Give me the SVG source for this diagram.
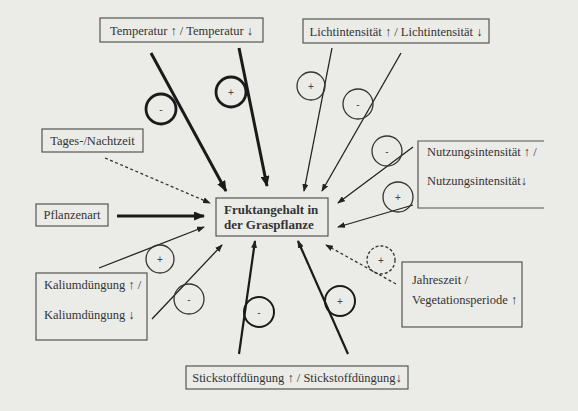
<svg xmlns="http://www.w3.org/2000/svg" width="578" height="411" viewBox="0 0 578 411">
<style>
.bg{fill:#ebebe8}
.box{fill:none;stroke:#555;stroke-width:1.2}
.t{font-family:"Liberation Serif","Times New Roman",serif;font-size:12.5px;fill:#333}
.tb{font-family:"Liberation Serif","Times New Roman",serif;font-size:13px;font-weight:bold;fill:#333}
.thin{stroke:#222;stroke-width:1.3;fill:none}
.med{stroke:#1a1a1a;stroke-width:2.2;fill:none}
.thick{stroke:#1a1a1a;stroke-width:3;fill:none}
.dash{stroke:#333;stroke-width:1.3;fill:none;stroke-dasharray:3,2.5}
.c{fill:none;stroke:#333;stroke-width:1.3}
.ck{fill:none;stroke:#1a1a1a;stroke-width:2.8}
.cm{fill:none;stroke:#1a1a1a;stroke-width:2}
.cd{fill:none;stroke:#333;stroke-width:1.3;stroke-dasharray:3,2}
.s{font-family:"Liberation Sans",Arial,sans-serif;font-size:10px;fill:#444;text-anchor:middle}
</style>
<defs>
<marker id="a" markerWidth="8" markerHeight="6" refX="7" refY="3" orient="auto" markerUnits="userSpaceOnUse"><path d="M0,0 L8,3 L0,6 z" fill="#222"/></marker>
<marker id="ak" markerWidth="11" markerHeight="9" refX="10" refY="4.5" orient="auto" markerUnits="userSpaceOnUse"><path d="M0,0 L11,4.5 L0,9 z" fill="#1a1a1a"/></marker>
</defs>
<rect class="bg" x="0" y="0" width="578" height="411"/>

<g id="n-temperatur"><rect class="box" x="100" y="18" width="163" height="24"/><text class="t" x="181.5" y="35" text-anchor="middle">Temperatur ↑  / Temperatur ↓</text></g>
<g id="n-licht"><rect class="box" x="303" y="19" width="186" height="24"/><text class="t" x="396" y="36" text-anchor="middle">Lichtintensität ↑ / Lichtintensität ↓</text></g>
<g id="n-tages"><rect class="box" x="42" y="129" width="101" height="23"/><text class="t" x="92.5" y="145" text-anchor="middle">Tages-/Nachtzeit</text></g>
<g id="n-pflanzenart"><rect class="box" x="36" y="204" width="72" height="22"/><text class="t" x="72" y="219" text-anchor="middle">Pflanzenart</text></g>
<g id="n-frukt"><rect class="box" x="216" y="198" width="112" height="38"/><text class="tb" x="224" y="214">Fruktangehalt in</text><text class="tb" x="224" y="229">der Graspflanze</text></g>
<g id="n-nutzung"><path class="box" d="M544,141 H418 V208 H544"/><text class="t" x="427" y="156">Nutzungsintensität ↑ /</text><text class="t" x="427" y="185">Nutzungsintensität↓</text></g>
<g id="n-kalium"><rect class="box" x="36" y="273" width="111" height="67"/><text class="t" x="44" y="289">Kaliumdüngung ↑ /</text><text class="t" x="44" y="319">Kaliumdüngung ↓</text></g>
<g id="n-jahreszeit"><rect class="box" x="402" y="262" width="120" height="65"/><text class="t" x="412" y="284">Jahreszeit /</text><text class="t" x="412" y="304">Vegetationsperiode ↑</text></g>
<g id="n-stickstoff"><rect class="box" x="186" y="366" width="222" height="23"/><text class="t" x="297" y="382" text-anchor="middle">Stickstoffdüngung ↑ / Stickstoffdüngung↓</text></g>

<g id="connectors">
<line class="thick" x1="151" y1="53" x2="226" y2="191" marker-end="url(#ak)"/>
<line class="thick" x1="239" y1="48" x2="267" y2="186" marker-end="url(#ak)"/>
<line class="thin" x1="332" y1="48" x2="304" y2="191" marker-end="url(#a)"/>
<line class="thin" x1="401" y1="53" x2="322" y2="191" marker-end="url(#a)"/>
<line class="thin" x1="413" y1="147" x2="338" y2="203" marker-end="url(#a)"/>
<line class="thin" x1="413" y1="205" x2="338" y2="227" marker-end="url(#a)"/>
<line class="dash" x1="105" y1="158" x2="210" y2="203" marker-end="url(#a)"/>
<line class="thick" x1="117" y1="216" x2="204" y2="216" marker-end="url(#ak)"/>
<line class="thin" x1="99" y1="268" x2="204" y2="227" marker-end="url(#a)"/>
<line class="thin" x1="152" y1="319" x2="222" y2="245" marker-end="url(#a)"/>
<line class="med" x1="239" y1="354" x2="255" y2="241" marker-end="url(#a)"/>
<line class="med" x1="348" y1="354" x2="298" y2="241" marker-end="url(#a)"/>
<line class="dash" x1="396" y1="284" x2="326" y2="245" marker-end="url(#a)"/>

<circle class="ck" cx="161" cy="109" r="15"/><text class="s" x="161" y="113">-</text>
<circle class="ck" cx="231" cy="92" r="15"/><text class="s" x="231" y="96">+</text>
<circle class="c" cx="311" cy="86" r="14"/><text class="s" x="311" y="90">+</text>
<circle class="c" cx="358" cy="104" r="15"/><text class="s" x="358" y="108">-</text>
<circle class="c" cx="387" cy="151" r="15"/><text class="s" x="387" y="155">-</text>
<circle class="c" cx="398" cy="197" r="15"/><text class="s" x="398" y="201">+</text>
<circle class="c" cx="160" cy="259" r="14"/><text class="s" x="160" y="263">+</text>
<circle class="c" cx="189" cy="299" r="15"/><text class="s" x="189" y="303">-</text>
<circle class="cm" cx="259" cy="312" r="15"/><text class="s" x="259" y="316">-</text>
<circle class="cm" cx="340" cy="301" r="15"/><text class="s" x="340" y="305">+</text>
<circle class="cd" cx="381" cy="260" r="14"/><text class="s" x="381" y="264">+</text>
</g>
</svg>
